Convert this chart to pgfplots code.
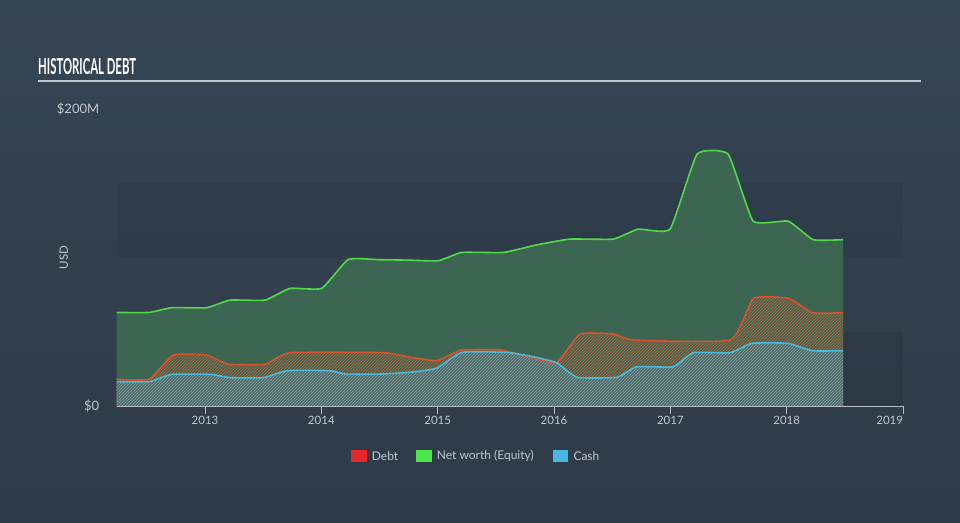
\documentclass[border=0pt]{standalone}
\usepackage{graphicx}
\usepackage{fontspec}
\setmainfont{Lato}
\usepackage{pgfplots}
\pgfplotsset{compat=1.18}
\usetikzlibrary{patterns}
\definecolor{bgtop}{HTML}{364554}
\definecolor{bgbot}{HTML}{2E3B48}
\definecolor{eqfill}{HTML}{3C6651}
\definecolor{eqline}{HTML}{52D94A}
\definecolor{debtline}{HTML}{D9532C}
\definecolor{debthatch}{HTML}{C4643C}
\definecolor{cashline}{HTML}{4BB8DC}
\definecolor{cashbase}{HTML}{4F6B69}
\definecolor{cashhatch}{HTML}{86A0A0}
\definecolor{axcol}{HTML}{B4BCC4}
\definecolor{lblcol}{HTML}{C2C8CE}
\definecolor{legred}{HTML}{E8262A}
\definecolor{leggreen}{HTML}{4EE44E}
\definecolor{legblue}{HTML}{47B8E0}

\pgfplotstableread{
x y
2012.241 63.0
2012.52 63.0
2012.714 66.2
2013.015 66.2
2013.215 71.3
2013.516 71.3
2013.731 79.2
2014.003 79.2
2014.232 98.7
2014.5 98.5
2014.75 98.2
2015.006 97.8
2015.207 103.4
2015.565 103.4
2015.852 108.5
2016.138 112.4
2016.51 112.4
2016.723 119.1
2016.998 119.1
2017.230 169.6
2017.497 169.6
2017.712 124.5
2018.013 124.5
2018.228 112.0
2018.486 112.0
}\equity

\pgfplotstableread{
x y
2012.241 18.0
2012.521 18.0
2012.727 34.3
2013.015 34.3
2013.200 28.1
2013.516 28.1
2013.731 35.9
2014.533 35.9
2014.75 33.0
2014.992 30.5
2015.207 37.7
2015.537 37.7
2015.8 32.8
2016.024 29.1
2016.224 48.5
2016.511 48.5
2016.683 44.4
2017.515 44.4
2017.715 72.5
2018.015 72.5
2018.222 62.8
2018.486 62.8
}\debt

\pgfplotstableread{
x y
2012.241 16.4
2012.521 16.4
2012.714 21.3
2013.05 21.3
2013.215 19.1
2013.5 19.1
2013.71 23.8
2014.07 23.8
2014.21 21.5
2014.5 21.5
2014.75 22.6
2014.99 25.4
2015.207 36.1
2015.594 36.1
2015.82 33.2
2016.024 29.1
2016.197 19.3
2016.54 19.3
2016.71 26.4
2017.024 26.4
2017.196 35.9
2017.515 35.9
2017.70 42.2
2018.01 42.2
2018.222 37.2
2018.486 37.2
}\cash

\begin{document}
\begin{tikzpicture}
\useasboundingbox (0pt,0pt) rectangle (960pt,522pt);
\shade[top color=bgtop, bottom color=bgbot] (0pt,0pt) rectangle (960pt,522pt);
% title
\node[anchor=base west, inner sep=0, text=white, font=\bfseries\fontsize{22}{24}\selectfont] at (38pt,447.5pt) {\scalebox{0.515}[1]{HISTORICAL DEBT}};
\draw[color=axcol!85!white, line width=2pt] (38pt,440.5pt) -- (921pt,440.5pt);
% y label
\node[rotate=90, text=lblcol, font=\fontsize{11.5}{13}\selectfont] at (63.8pt,264.5pt) {USD};
\begin{axis}[
  at={(116.7pt,116pt)}, anchor=south west,
  scale only axis, width=786.3pt, height=297pt,
  xmin=2012.241, xmax=2019, ymin=0, ymax=200,
  axis line style={draw=none},
  xtick={2013,2014,2015,2016,2017,2018,2019},
  xticklabels={2013,2014,2015,2016,2017,2018,\makebox[0pt][r]{2019}},
  xtick pos=bottom, tick align=outside, major tick length=8pt,
  x tick style={color=axcol, line width=0.9pt},
  ytick={0,200}, yticklabels={\$0,\$200M},
  ytick pos=left, y tick style={draw=none},
  xticklabel style={text=lblcol, font=\fontsize{11.5}{13}\selectfont, yshift=1pt},
  yticklabel style={text=lblcol, font=\fontsize{13}{15}\selectfont, anchor=east, xshift=-6pt},
  /pgf/number format/assume math mode=true,
  clip=false,
]
\fill[black, opacity=0.07] (axis cs:2012.241,0) rectangle (axis cs:2019,50);
\fill[black, opacity=0.07] (axis cs:2012.241,100) rectangle (axis cs:2019,150);
\addplot[draw=none, fill=eqfill, smooth, tension=0.25] table[x=x,y=y]{\equity} \closedcycle;
\addplot[draw=none, pattern=north east lines, pattern color=debthatch, smooth, tension=0.25] table[x=x,y=y]{\debt} \closedcycle;
\addplot[draw=none, fill=cashbase, smooth, tension=0.25] table[x=x,y=y]{\cash} \closedcycle;
\addplot[draw=none, pattern=north east lines, pattern color=cashhatch, smooth, tension=0.25] table[x=x,y=y]{\cash} \closedcycle;
\addplot[eqline, line width=1.6pt, smooth, tension=0.25] table[x=x,y=y]{\equity};
\addplot[debtline, line width=1.6pt, smooth, tension=0.25] table[x=x,y=y]{\debt};
\addplot[cashline, line width=1.6pt, smooth, tension=0.25] table[x=x,y=y]{\cash};
\draw[axcol, line width=0.9pt] (rel axis cs:0,0) -- (rel axis cs:1,0);
\end{axis}
% legend
\fill[legred] (351pt,60.3pt) rectangle (366.7pt,72pt);
\node[anchor=west, inner sep=0, text=lblcol, font=\fontsize{12}{14}\selectfont] at (371.7pt,66pt) {Debt};
\fill[leggreen] (416pt,60.3pt) rectangle (431.7pt,72pt);
\node[anchor=west, inner sep=0, text=lblcol, font=\fontsize{12}{14}\selectfont] at (436.7pt,66pt) {Net worth (Equity)};
\fill[legblue] (552.7pt,60.3pt) rectangle (568.3pt,72pt);
\node[anchor=west, inner sep=0, text=lblcol, font=\fontsize{12}{14}\selectfont] at (573.3pt,66pt) {Cash};
\end{tikzpicture}
\end{document}
